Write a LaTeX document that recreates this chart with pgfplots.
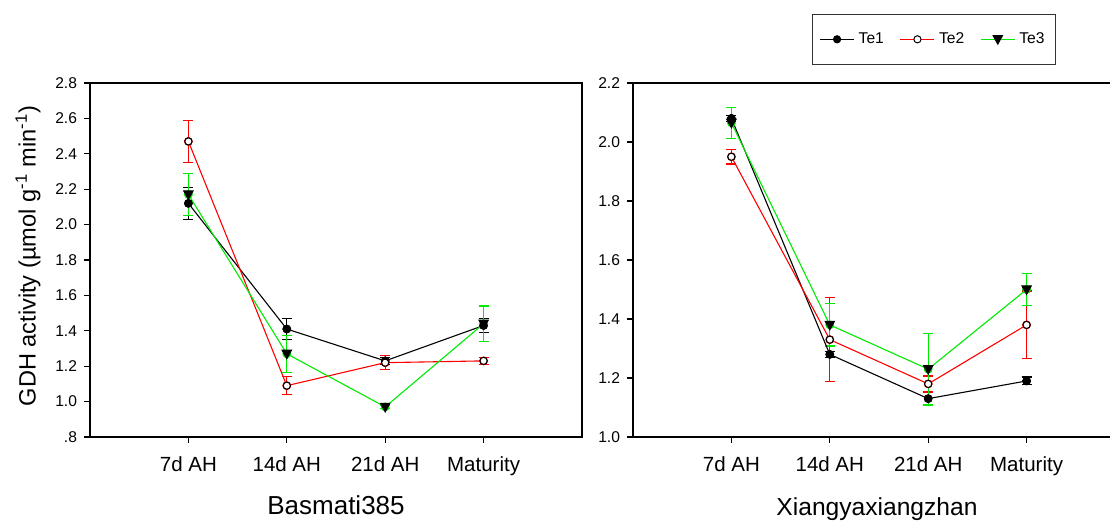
\documentclass[border=0pt]{standalone}
\usepackage{pgfplots}
\usepackage{pgfplotstable}
\pgfplotsset{compat=1.18}
\usepackage{fontspec}
\setmainfont{Liberation Sans}

\definecolor{lgreen}{RGB}{0,235,0}
\definecolor{lred}{RGB}{255,0,0}

\pgfdeclareplotmark{dtri}{%
  \pgfpathmoveto{\pgfpoint{0pt}{-1.15\pgfplotmarksize}}%
  \pgfpathlineto{\pgfpoint{1.1\pgfplotmarksize}{0.85\pgfplotmarksize}}%
  \pgfpathlineto{\pgfpoint{-1.1\pgfplotmarksize}{0.85\pgfplotmarksize}}%
  \pgfpathclose
  \pgfusepathqfillstroke}

% Basmati385
\pgfplotstableread{
x y ey
1 2.12 0.09
2 1.41 0.06
3 1.23 0.02
4 1.43 0.04
}\LA
\pgfplotstableread{
x y ey
1 2.47 0.12
2 1.09 0.05
3 1.22 0.04
4 1.23 0.02
}\LB
\pgfplotstableread{
x y ey
1 2.17 0.12
2 1.27 0.105
3 0.97 0.01
4 1.44 0.10
}\LC
% Xiangyaxiangzhan
\pgfplotstableread{
x y ey
1 2.08 0.01
2 1.28 0.01
3 1.13 0.02
4 1.19 0.013
}\RA
\pgfplotstableread{
x y ey
1 1.95 0.025
2 1.33 0.143
3 1.18 0.027
4 1.38 0.115
}\RB
\pgfplotstableread{
x y ey
1 2.065 0.053
2 1.38 0.072
3 1.23 0.122
4 1.50 0.054
}\RC

\pgfplotsset{
  panel/.style={
    scale only axis, width=246pt, height=177pt,
    xmin=0, xmax=5, xtick={1,2,3,4},
    xticklabels={7d AH,14d AH,21d AH,Maturity},
    tick align=outside, tick pos=left, major tick length=3pt,
    axis line style={line width=0.6pt},
    every tick/.style={black, line width=0.6pt},
    xticklabel style={font=\fontsize{10.25}{12}\selectfont, yshift=-3.5pt},
    yticklabel style={font=\fontsize{7.8}{9}\selectfont},
    /pgf/number format/assume math mode=true,
  },
  eb/.style={#1, forget plot, only marks, mark=none,
    error bars/.cd, y dir=both, y explicit, error mark=|,
    error bar style={draw=#1, line width=0.65pt},
    error mark options={draw=#1, mark size=2.5pt, line width=0.65pt}},
  s1/.style={forget plot, draw=black, line width=0.55pt, mark=*, mark size=1.8pt, mark options={draw=black, fill=black}},
  s2/.style={forget plot, draw=lred, line width=0.55pt, mark=*, mark size=1.8pt, mark options={draw=black, fill=white}},
  s3/.style={forget plot, draw=lgreen, line width=0.55pt, mark=dtri, mark size=2.1pt, mark options={draw=black, fill=black}},
}

\begin{document}
\begin{tikzpicture}
\useasboundingbox (0,0) rectangle (555pt,262pt);
\clip (0,0) rectangle (555pt,262pt);

\begin{axis}[panel, at={(45pt,43.5pt)}, anchor=south west,
  ymin=0.8, ymax=2.8,
  ytick={0.8,1,1.2,1.4,1.6,1.8,2,2.2,2.4,2.6,2.8},
  yticklabels={.8,1.0,1.2,1.4,1.6,1.8,2.0,2.2,2.4,2.6,2.8}]
\addplot[eb=black] table[x=x,y=y,y error=ey]{\LA};
\addplot[eb=lred] table[x=x,y=y,y error=ey]{\LB};
\addplot[eb=lgreen] table[x=x,y=y,y error=ey]{\LC};
\addplot[s1] table[x=x,y=y]{\LA};
\addplot[s2] table[x=x,y=y]{\LB};
\addplot[s3] table[x=x,y=y]{\LC};
\end{axis}

\begin{axis}[panel, at={(316.5pt,43.5pt)}, anchor=south west,
  ymin=1.0, ymax=2.2,
  ytick={1,1.2,1.4,1.6,1.8,2,2.2},
  yticklabels={1.0,1.2,1.4,1.6,1.8,2.0,2.2},
  legend columns=3,
  legend style={at={(0.364,1.195)}, anchor=north west,
    draw=black!80, inner xsep=3.5pt, inner ysep=7pt,
    font=\fontsize{7.8}{9}\selectfont,
    /tikz/every even column/.append style={column sep=6pt}}]
\addlegendimage{legend image code/.code={\draw[black, line width=0.6pt, mark=*, mark size=1.8pt, mark options={draw=black, fill=black, line width=0.5pt}, mark repeat=2, mark phase=2] plot coordinates {(0pt,0pt)(8.5pt,0pt)(17pt,0pt)};}}
\addlegendentry{Te1}
\addlegendimage{legend image code/.code={\draw[lred, line width=0.6pt, mark=*, mark size=1.8pt, mark options={draw=black, fill=white, line width=0.5pt}, mark repeat=2, mark phase=2] plot coordinates {(0pt,0pt)(8.5pt,0pt)(17pt,0pt)};}}
\addlegendentry{Te2}
\addlegendimage{legend image code/.code={\draw[lgreen, line width=0.6pt, mark=dtri, mark size=2.1pt, mark options={draw=black, fill=black, line width=0.5pt}, mark repeat=2, mark phase=2] plot coordinates {(0pt,0pt)(8.5pt,0pt)(17pt,0pt)};}}
\addlegendentry{Te3}
\addplot[eb=black] table[x=x,y=y,y error=ey]{\RA};
\addplot[eb=lred] table[x=x,y=y,y error=ey]{\RB};
\addplot[eb=lgreen] table[x=x,y=y,y error=ey]{\RC};
\addplot[s1] table[x=x,y=y]{\RA};
\addplot[s2] table[x=x,y=y]{\RB};
\addplot[s3] table[x=x,y=y]{\RC};
\end{axis}

\node[anchor=base, font=\fontsize{13}{15}\selectfont] at (168pt,4.5pt) {Basmati385};
\node[anchor=base, font=\fontsize{12.3}{15}\selectfont] at (438.5pt,4pt) {Xiangyaxiangzhan};
\node[rotate=90, font=\fontsize{11.8}{14}\selectfont] at (14pt,134pt) {GDH activity (µmol g\textsuperscript{-1} min\textsuperscript{-1})};
\end{tikzpicture}
\end{document}
